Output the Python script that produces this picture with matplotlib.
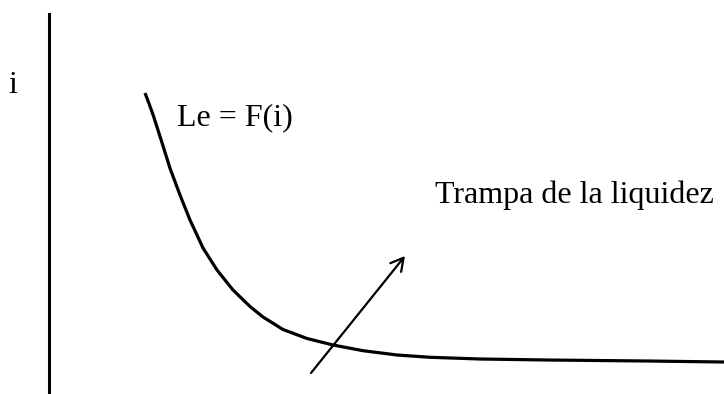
#!/usr/bin/env python
# -*- coding: utf-8 -*-

"""
Trampa de la liquidez: curva de demanda de dinero Le = F(i)
"""

import matplotlib
matplotlib.use("Agg")
import matplotlib.pyplot as plt


# ===== datos (unidades del gráfico: L horizontal, i vertical) =====
L_VALUES = [96.5, 100.5, 104.8, 113.2, 121.5, 131.5, 141.5, 154.5, 168.5,
            184.5, 201.5, 214.5, 234.5, 258.5, 284.5, 314.5, 348.5, 381.5,
            431.5, 498.5, 598.5, 675.5]
I_VALUES = [301.0, 290.5, 278.5, 252.3, 225.7, 199.0, 174.0, 146.0, 124.0,
            104.0, 87.5, 77.0, 64.5, 55.5, 49.0, 43.3, 39.0, 36.7,
            35.0, 34.0, 33.0, 32.0]

CURVE_LABEL = "Le = F(i)"
CURVE_LABEL_POS = (128.5, 269)

TRAP_LABEL = "Trampa de la liquidez"
TRAP_LABEL_POS = (386.5, 191)

ARROW_FROM = (262.5, 21)
ARROW_TO = (356.5, 138)

Y_LABEL = "i"
Y_LABEL_POS = (-35.5, 301)

X_MAX = 675.5
Y_MAX = 380
# ===========================


def main():
    plt.rcParams["font.family"] = ["Liberation Serif", "DejaVu Serif"]

    fig = plt.figure(figsize=(7.24, 3.94), dpi=100)
    ax = fig.add_axes([48.5 / 724, 0, 1 - 48.5 / 724, Y_MAX / 394])
    ax.set_xlim(0, X_MAX)
    ax.set_ylim(0, Y_MAX)

    for side in ("top", "right", "bottom"):
        ax.spines[side].set_visible(False)
    ax.spines["left"].set_linewidth(2.2)
    ax.set_xticks([]); ax.set_yticks([])

    ax.plot(L_VALUES, I_VALUES, color="black", lw=2.3,
            solid_capstyle="butt", solid_joinstyle="round", clip_on=False)

    ax.annotate("", xy=ARROW_TO, xytext=ARROW_FROM,
                arrowprops=dict(arrowstyle="->,head_length=0.45,head_width=0.25",
                                color="black", lw=1.6, mutation_scale=20,
                                shrinkA=0, shrinkB=0))

    ax.text(*CURVE_LABEL_POS, CURVE_LABEL, fontsize=23, va="baseline", ha="left")
    ax.text(*TRAP_LABEL_POS, TRAP_LABEL, fontsize=23, va="baseline", ha="left")
    ax.text(*Y_LABEL_POS, Y_LABEL, fontsize=23, va="baseline", ha="center",
            clip_on=False)

    fig.savefig("out.png", dpi=100)
    plt.close(fig)


if __name__ == "__main__":
    main()
